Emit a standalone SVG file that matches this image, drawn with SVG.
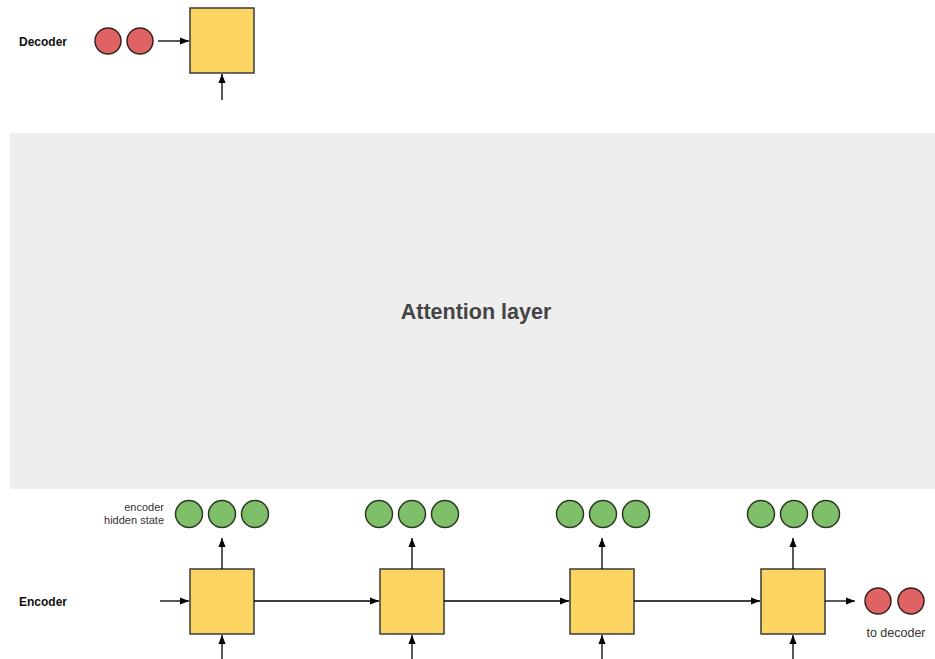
<svg xmlns="http://www.w3.org/2000/svg" width="935" height="659" viewBox="0 0 935 659">
<defs>
<marker id="ah" viewBox="0 0 10 10" refX="10" refY="5" markerWidth="9" markerHeight="9" markerUnits="userSpaceOnUse" orient="auto"><path d="M0,1 L10,5 L0,9 z" fill="#000"/></marker>
<style>
.box{fill:#fcd462;stroke:#3a3a3a;stroke-width:1.5}
.red{fill:#e06363;stroke:#3a2020;stroke-width:1.5}
.green{fill:#7fbf6a;stroke:#2a3a22;stroke-width:1.5}
.ln{stroke:#000;stroke-width:1.3;fill:none;marker-end:url(#ah)}
.lbl{font-family:"Liberation Sans",Arial,sans-serif;font-weight:bold;font-size:12px;fill:#111}
.sm{font-family:"Liberation Sans",Arial,sans-serif;font-size:11px;fill:#333}
.big{font-size:12.5px}
</style>
</defs>
<rect width="935" height="659" fill="#fff"/>
<g id="attention">
<rect x="10" y="133" width="925" height="356" fill="#eeeeee"/>
<text x="476" y="319" text-anchor="middle" font-family="Liberation Sans,Arial,sans-serif" font-weight="bold" font-size="21.5" fill="#444">Attention layer</text>
</g>
<g id="labels">
<text class="lbl" x="19" y="46">Decoder</text>
<text class="lbl" x="19" y="606">Encoder</text>
<text class="sm" x="164" y="511" text-anchor="end">encoder</text>
<text class="sm" x="164" y="524" text-anchor="end">hidden state</text>
<text class="sm big" x="896" y="637" text-anchor="middle">to decoder</text>
</g>
<g id="decoder">
<circle class="red" cx="108" cy="41" r="13"/>
<circle class="red" cx="140" cy="41" r="13"/>
<rect class="box" x="190" y="8" width="64" height="65"/>
</g>
<g id="enc1">
<rect class="box" x="190" y="569" width="64" height="65"/>
<circle class="green" cx="189" cy="514" r="13.5"/>
<circle class="green" cx="222" cy="514" r="13.5"/>
<circle class="green" cx="255" cy="514" r="13.5"/>
</g>
<g id="enc2">
<rect class="box" x="380" y="569" width="64" height="65"/>
<circle class="green" cx="379" cy="514" r="13.5"/>
<circle class="green" cx="412" cy="514" r="13.5"/>
<circle class="green" cx="445" cy="514" r="13.5"/>
</g>
<g id="enc3">
<rect class="box" x="570" y="569" width="64" height="65"/>
<circle class="green" cx="570" cy="514" r="13.5"/>
<circle class="green" cx="603" cy="514" r="13.5"/>
<circle class="green" cx="636" cy="514" r="13.5"/>
</g>
<g id="enc4">
<rect class="box" x="761" y="569" width="64" height="65"/>
<circle class="green" cx="761" cy="514" r="13.5"/>
<circle class="green" cx="794" cy="514" r="13.5"/>
<circle class="green" cx="826" cy="514" r="13.5"/>
</g>
<g id="out">
<circle class="red" cx="878" cy="601" r="13"/>
<circle class="red" cx="911" cy="601" r="13"/>
</g>
<g id="connectors">
<line class="ln" x1="158" y1="41" x2="189" y2="41"/>
<line class="ln" x1="222" y1="100" x2="222" y2="74"/>
<line class="ln" x1="160" y1="601" x2="189" y2="601"/>
<line class="ln" x1="254" y1="601" x2="379" y2="601"/>
<line class="ln" x1="444" y1="601" x2="569" y2="601"/>
<line class="ln" x1="634" y1="601" x2="760" y2="601"/>
<line class="ln" x1="825" y1="601" x2="855" y2="601"/>
<line class="ln" x1="222" y1="569" x2="222" y2="538"/>
<line class="ln" x1="412" y1="569" x2="412" y2="538"/>
<line class="ln" x1="602" y1="569" x2="602" y2="538"/>
<line class="ln" x1="793" y1="569" x2="793" y2="538"/>
<line class="ln" x1="222" y1="659" x2="222" y2="635"/>
<line class="ln" x1="412" y1="659" x2="412" y2="635"/>
<line class="ln" x1="602" y1="659" x2="602" y2="635"/>
<line class="ln" x1="793" y1="659" x2="793" y2="635"/>
</g>
</svg>
